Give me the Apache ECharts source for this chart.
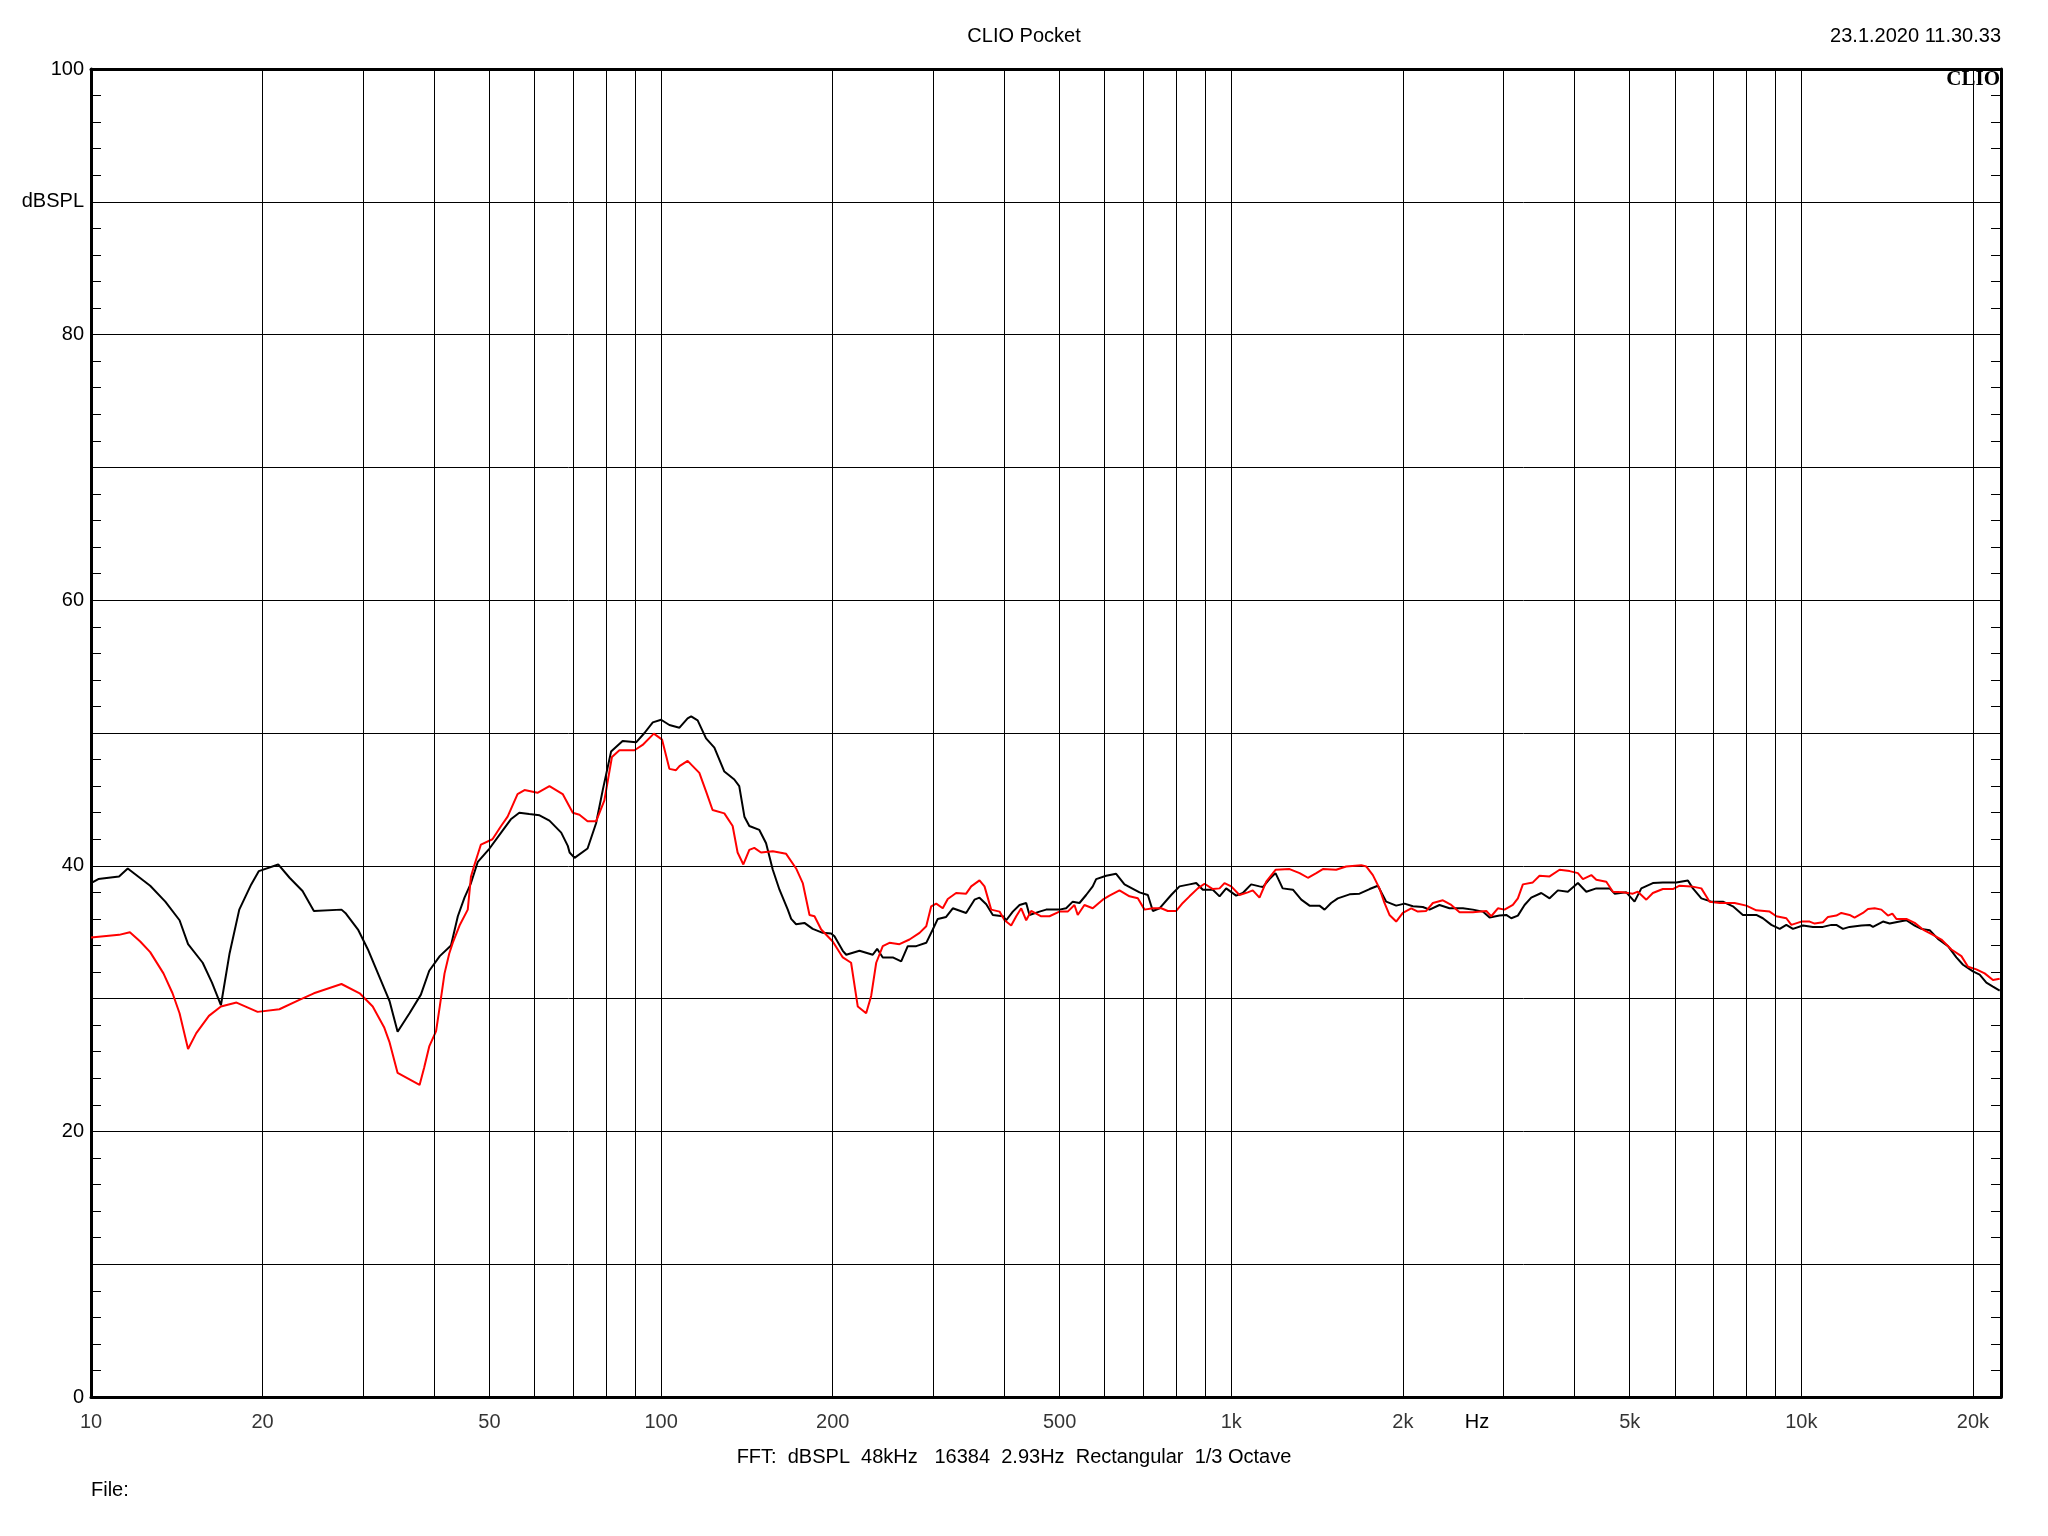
<!DOCTYPE html>
<html>
<head>
<meta charset="utf-8">
<script src="https://cdn.jsdelivr.net/npm/echarts@6/dist/echarts.min.js"></script>
<style>
html,body{margin:0;padding:0;background:#fff;}
#chart{width:2048px;height:1536px;}
</style>
</head>
<body>
<div id="chart"></div>
<script>
// ---- data (frequency in Hz, level in dBSPL) ----
const freqBlack = [10,10.3,11.2,11.6,12.7,13.5,14.3,14.8,15.7,16.3,16.9,17.5,18.2,19.1,19.7,21.3,22.3,23.5,24.6,27.5,28.0,29.4,30.6,33.1,33.4,34.5,36.2,37.9,39.2,40.9,42.8,44.0,45.2,46.4,47.7,50.0,52.4,54.5,56.4,58.7,61.2,63.7,66.8,68.6,69.1,70.5,74.3,76.9,79.0,81.7,85.6,90.4,93.5,96.7,100,103.4,107.7,111.3,112.9,115.9,119.9,124.0,129.1,134.4,137.1,140.0,142.8,148.7,152.8,157.0,161.3,166.8,169.1,172.5,178.4,184.5,192.1,198.7,201.4,208.3,211.2,222.8,235.1,239.3,244.8,254.9,263.7,270.8,280.2,291.8,299.6,305.7,316.2,324.8,342.8,354.6,361.8,371.8,381.8,397.6,403.1,413.9,425.3,436.9,442.7,461.0,473.6,499.7,513.4,527.3,541.8,556.6,571.6,579.6,603.5,628.3,649.8,690.5,714.1,728.7,748.6,784.7,811.5,845,868.2,891.7,928.4,954,979.9,1020,1048,1084,1121,1136,1167,1196,1231,1283,1327,1372,1428,1458,1497,1538,1613,1679,1749,1808,1870,1947,2014,2083,2168,2228,2319,2415,2549,2654,2763,2839,2956,3037,3099,3183,3270,3359,3499,3618,3741,3895,4056,4196,4369,4610,4704,4932,5099,5240,5490,5717,6035,6325,6454,6678,6953,7287,7586,7898,8338,8562,8860,9164,9413,9667,10065,10481,10552,10914,11290,11518,11830,12151,12744,13178,13356,13907,14287,14877,15284,15807,16240,16794,17365,18082,18706,19213,20000,20549,21115,21682,22281];
const splBlack = [38.7,39.0,39.2,39.8,38.5,37.3,35.9,34.1,32.7,31.2,29.5,33.4,36.7,38.6,39.6,40.1,39.1,38.1,36.6,36.7,36.4,35.2,33.7,30.2,29.8,27.5,28.9,30.3,32.1,33.2,34.0,36.2,37.6,38.7,40.3,41.3,42.5,43.5,44.0,43.9,43.8,43.4,42.5,41.5,41.0,40.6,41.3,43.2,45.7,48.6,49.4,49.3,50.0,50.8,51.0,50.6,50.4,51.1,51.25,50.95,49.6,48.9,47.1,46.5,46.0,43.7,43.0,42.7,41.7,39.7,38.2,36.7,36.0,35.6,35.7,35.25,34.95,34.9,34.7,33.6,33.3,33.6,33.3,33.75,33.1,33.1,32.8,33.95,33.95,34.2,35.2,36.0,36.15,36.8,36.45,37.45,37.6,37.1,36.3,36.2,35.9,36.55,37.05,37.2,36.3,36.55,36.7,36.7,36.8,37.3,37.2,37.8,38.45,39.0,39.25,39.4,38.6,38.0,37.8,36.6,36.8,37.8,38.45,38.6,38.7,38.2,38.2,37.7,38.3,37.75,37.95,38.6,38.45,38.4,39.0,39.45,38.3,38.2,37.45,37.0,37.0,36.7,37.2,37.55,37.85,37.9,38.25,38.5,37.3,37.0,37.15,36.95,36.9,36.7,37.05,36.8,36.8,36.7,36.55,36.1,36.25,36.3,36.05,36.25,37.05,37.6,37.95,37.55,38.15,38.05,38.7,38.05,38.3,38.3,37.9,38.0,37.3,38.3,38.7,38.75,38.75,38.9,38.3,37.55,37.3,37.3,36.95,36.3,36.3,36.05,35.55,35.25,35.55,35.25,35.5,35.4,35.3,35.4,35.55,35.55,35.25,35.4,35.5,35.55,35.4,35.8,35.65,35.8,35.9,35.5,35.25,35.15,34.5,33.95,33.1,32.55,32.05,31.8,31.2,30.9,30.6];

const freqRed = [10,11.2,11.7,12.2,12.7,13.4,13.9,14.3,14.8,15.3,16.1,16.9,18.0,19.6,21.4,23.2,24.6,27.5,29.6,31.2,32.7,33.4,34.5,37.7,38.4,39.2,40.3,40.9,41.7,42.5,43.1,44.3,45.8,46.4,47.0,48.3,50.6,52.4,53.8,56.0,57.6,60.7,63.7,67.2,70.0,71.9,74.3,76.9,79.5,82.0,84.5,89.8,92.8,97.1,100.4,103.4,106.2,107.7,111.3,116.7,119.9,123.1,129.1,133.5,136.2,139.4,142.8,145.7,149.7,157.0,165.7,172.5,177.2,182.1,185.8,190.9,200.0,208.3,215.4,221.3,228.9,233.6,238.4,244.8,251.5,261.9,272.7,284.0,291.8,297.7,303.8,311.9,318.3,329.2,342.8,349.9,361.8,369.2,379.3,392.3,400.4,411.2,419.7,428.2,436.9,445.8,464.2,480.0,499.7,516.7,530.9,538.0,552.7,571.6,595.2,611.6,636.8,663.1,685.8,704.6,728.7,753.8,774.1,800.7,822.4,845.0,873.8,897.9,928.4,954.0,973.2,1000,1034,1069,1091,1121,1152,1196,1266,1318,1363,1410,1448,1528,1591,1691,1725,1772,1820,1857,1895,1947,2000,2069,2125,2198,2258,2351,2432,2515,2654,2802,2858,2936,3016,3119,3183,3248,3381,3474,3618,3767,3923,4056,4139,4282,4369,4549,4672,4864,5065,5167,5347,5490,5717,5952,6116,6412,6678,6905,7190,7638,8008,8338,8799,9042,9413,9605,10000,10342,10552,10914,11137,11518,11754,12151,12399,12826,13088,13448,13817,14189,14443,14680,15284,15807,16345,17020,17606,18334,19089,19606,20277,20970,21682,22281];
const splRed = [34.6,34.8,35.0,34.3,33.5,31.9,30.4,28.9,26.2,27.4,28.7,29.4,29.7,29.0,29.2,29.9,30.4,31.1,30.4,29.4,27.8,26.7,24.4,23.5,24.8,26.4,27.55,29.4,31.9,33.4,34.2,35.5,36.7,39.2,40.0,41.6,42.0,43.0,43.7,45.4,45.7,45.5,46.0,45.4,44.0,43.85,43.35,43.35,44.9,48.2,48.7,48.7,49.1,49.95,49.5,47.3,47.2,47.5,47.9,47.0,45.6,44.2,43.95,43.0,41.0,40.1,41.2,41.35,41.0,41.1,40.9,39.8,38.7,36.3,36.2,35.2,34.3,33.1,32.7,29.4,28.9,30.2,32.7,33.95,34.2,34.1,34.45,34.95,35.45,36.95,37.15,36.8,37.5,37.95,37.9,38.45,38.9,38.45,36.7,36.55,35.9,35.5,36.2,36.8,35.9,36.6,36.2,36.2,36.55,36.55,37.05,36.3,37.05,36.8,37.45,37.75,38.15,37.7,37.55,36.7,36.8,36.8,36.6,36.6,37.2,37.7,38.3,38.65,38.25,38.3,38.7,38.45,37.8,38.0,38.15,37.6,38.8,39.7,39.75,39.45,39.1,39.45,39.75,39.7,39.95,40.05,39.95,39.3,38.3,37.2,36.3,35.8,36.45,36.8,36.55,36.6,37.2,37.4,37.05,36.5,36.5,36.6,36.2,36.8,36.7,37.05,37.55,38.6,38.75,39.25,39.2,39.7,39.6,39.45,39.0,39.3,38.95,38.8,38.05,38.0,37.9,38.05,37.45,37.95,38.25,38.25,38.5,38.45,38.3,37.3,37.2,37.2,37.0,36.65,36.55,36.2,36.05,35.55,35.8,35.8,35.65,35.75,36.15,36.25,36.45,36.3,36.1,36.45,36.75,36.8,36.7,36.25,36.4,36.0,36.0,35.7,35.2,34.8,34.45,33.7,33.2,32.4,32.2,31.9,31.4,31.5];

const gridFreqs = [20,30,40,50,60,70,80,90,100,200,300,400,500,600,700,800,900,1000,2000,3000,4000,5000,6000,7000,8000,9000,10000,20000];
const labelFreqs = [10,20,50,100,200,500,1000,2000,5000,10000,20000];
const yTickLabels = {0:'0',20:'20',40:'40',60:'60',80:'80',90:'dBSPL',100:'100'};

const FREQ_MIN = 10, FREQ_MAX = 22400;
const FONT = '"Liberation Sans", Arial, sans-serif';
const FS = 20;

function zip(xs, ys){ return xs.map((x,i)=>[x, ys[i]]); }
function fmtFreq(f){ return f >= 1000 ? (f/1000) + 'k' : String(f); }

const chart = echarts.init(document.getElementById('chart'), null, {renderer:'canvas'});

const option = {
  backgroundColor: '#ffffff',
  animation: false,
  textStyle: {fontFamily: FONT},
  grid: {left: 91, right: 47, top: 69, bottom: 139, containLabel: false},
  xAxis: [
    {type:'log', logBase:10, min:FREQ_MIN, max:FREQ_MAX, position:'bottom',
     axisLine:{show:true, onZero:false, lineStyle:{color:'#000', width:3}},
     axisTick:{show:false}, axisLabel:{show:false}, splitLine:{show:false}, minorTick:{show:false}},
    {type:'log', logBase:10, min:FREQ_MIN, max:FREQ_MAX, position:'top',
     axisLine:{show:true, onZero:false, lineStyle:{color:'#000', width:3}},
     axisTick:{show:false}, axisLabel:{show:false}, splitLine:{show:false}}
  ],
  yAxis: [
    {type:'value', min:0, max:100, interval:10, position:'left',
     axisLine:{show:true, onZero:false, lineStyle:{color:'#000', width:3}},
     axisTick:{show:true, inside:true, length:10, lineStyle:{color:'#000', width:1}},
     minorTick:{show:true, splitNumber:5, length:10, lineStyle:{color:'#000', width:1}},
     axisLabel:{show:true, margin:7, fontSize:FS, color:'#000', fontFamily:FONT,
       formatter: v => (yTickLabels[v] !== undefined ? yTickLabels[v] : '')},
     splitLine:{show:true, lineStyle:{color:'#000', width:1}}},
    {type:'value', min:0, max:100, interval:10, position:'right',
     axisLine:{show:true, onZero:false, lineStyle:{color:'#000', width:3}},
     axisTick:{show:true, inside:true, length:10, lineStyle:{color:'#000', width:1}},
     minorTick:{show:true, splitNumber:5, length:10, lineStyle:{color:'#000', width:1}},
     axisLabel:{show:false}, splitLine:{show:false}}
  ],
  series: [
    {
      name:'freqLabels', type:'scatter', xAxisIndex:0, yAxisIndex:0, z:1,
      data: labelFreqs.map(f => [f, 0]),
      symbolSize: 1, itemStyle:{color:'rgba(0,0,0,0)'}, silent:true, clip:false,
      label:{show:true, position:'bottom', distance:15, fontSize:FS, color:'#000', fontFamily:FONT,
             formatter: p => fmtFreq(p.value[0])},
      markLine:{
        silent:true, animation:false, symbol:['none','none'],
        label:{show:false},
        lineStyle:{color:'#000', width:1, type:'solid'},
        emphasis:{disabled:true},
        data: gridFreqs.map(f => ({xAxis: f}))
      }
    },
    {
      name:'black', type:'line', xAxisIndex:0, yAxisIndex:0, z:3,
      data: zip(freqBlack, splBlack), showSymbol:false, symbol:'none',
      lineStyle:{color:'#000000', width:2}, silent:true
    },
    {
      name:'red', type:'line', xAxisIndex:0, yAxisIndex:0, z:4,
      data: zip(freqRed, splRed), showSymbol:false, symbol:'none',
      lineStyle:{color:'#ff0000', width:2}, silent:true
    }
  ],
  graphic: [
    {type:'text', x:1024, y:36, z:10, style:{text:'CLIO Pocket', font:FS+'px '+FONT, fill:'#000', align:'center', verticalAlign:'middle'}},
    {type:'text', x:2001, y:36, z:10, style:{text:'23.1.2020 11.30.33', font:FS+'px '+FONT, fill:'#000', align:'right', verticalAlign:'middle'}},
    {type:'text', x:2000, y:80, z:10, style:{text:'CLIO', font:'bold 21px "Liberation Serif", "Times New Roman", serif', fill:'#000', align:'right', verticalAlign:'middle'}},
    {type:'text', x:1477, y:1422, z:10, style:{text:'Hz', font:FS+'px '+FONT, fill:'#000', align:'center', verticalAlign:'middle'}},
    {type:'text', x:1014, y:1457, z:10, style:{text:'FFT:  dBSPL  48kHz   16384  2.93Hz  Rectangular  1/3 Octave', font:FS+'px '+FONT, fill:'#000', align:'center', verticalAlign:'middle'}},
    {type:'text', x:91, y:1490, z:10, style:{text:'File:', font:FS+'px '+FONT, fill:'#000', align:'left', verticalAlign:'middle'}}
  ]
};

chart.setOption(option);
</script>
</body>
</html>
